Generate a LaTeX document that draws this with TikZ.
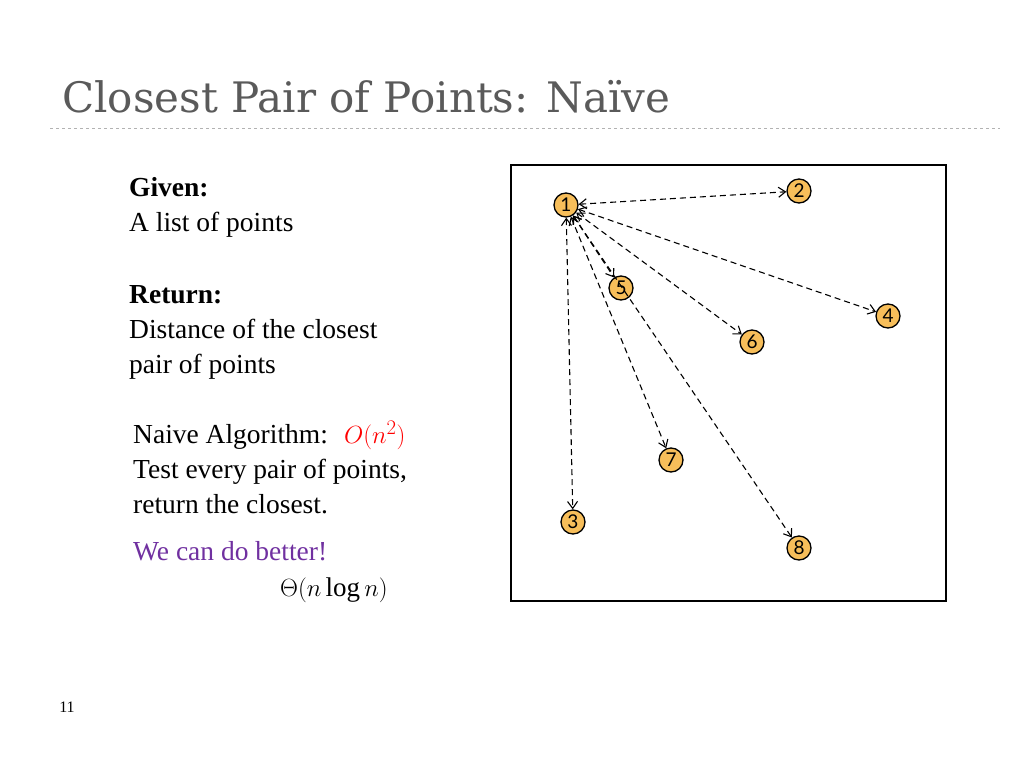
\documentclass[tikz,border=0pt]{standalone}
\usepackage{fontspec}
\setmainfont{Liberation Serif}
\newfontfamily\numfont{Lato}
\newfontfamily\titlefont{DejaVu Serif}
\usetikzlibrary{arrows.meta}
\begin{document}
\begin{tikzpicture}[x=1pt,y=-1pt,
  pt/.style={circle,draw,line width=1.3pt,fill={rgb,255:red,247;green,190;blue,90},inner sep=0pt,minimum size=24pt,font=\numfont\fontsize{19}{19}\selectfont},
  conn/.style={dash pattern=on 6pt off 4pt,line width=1.1pt,{Straight Barb[length=7pt,width=10pt]}-{Straight Barb[length=7pt,width=10pt]}},
  txt/.style={anchor=north west,align=left,inner sep=0pt,font=\fontsize{27.5}{35}\selectfont}]
\useasboundingbox (0,0) rectangle (1024,768);
\node[anchor=base west,inner sep=0pt,text={rgb,255:red,90;green,90;blue,90},font=\titlefont\fontsize{42}{42}\selectfont] (title) at (62,112) {Closest Pair of Points: Naïve};
\draw[dashed,gray!60,line width=0.7pt] (50,128) -- (1000,128);
\node[txt] (given) at (129,177) {\textbf{Given:}\\A list of points};
\node[txt] (ret) at (129,285) {\textbf{Return:}\\Distance of the closest\\pair of points};
\node[txt] (naive) at (133,421) {Naive Algorithm: \ \textcolor{red}{$O(n^2)$}\\Test every pair of points,\\return the closest.};
\node[txt,text={rgb,255:red,112;green,48;blue,160}] (better) at (133,541) {We can do better!};
\node[anchor=west,inner sep=0pt,font=\fontsize{27}{30}\selectfont] (theta) at (280,590) {$\Theta(n\log n)$};
\node[anchor=base,inner sep=0pt,font=\fontsize{16}{16}\selectfont] (pg) at (67,712) {11};
\draw[line width=1.5pt] (511,165) rectangle (946,601);
\node[pt] (p1) at (566,205) {1};
\node[pt] (p2) at (799,191) {2};
\node[pt] (p5) at (621,288) {5};
\node[pt] (p4) at (888,316) {4};
\node[pt] (p6) at (752,342) {6};
\node[pt] (p7) at (671,460) {7};
\node[pt] (p3) at (573,522) {3};
\node[pt] (p8) at (799,548) {8};
\foreach \t in {p2,p5,p4,p6,p7,p3,p8} \draw[conn] (p1) -- (\t);
\end{tikzpicture}
\end{document}
